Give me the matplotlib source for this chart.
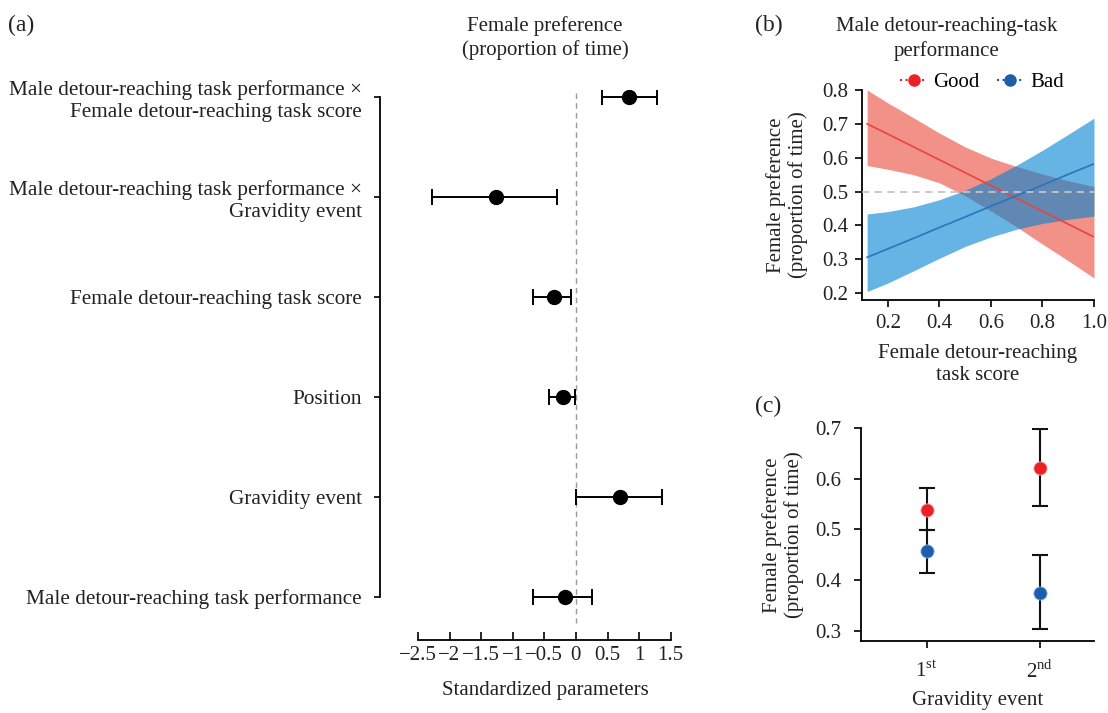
import matplotlib
matplotlib.use("Agg")
import matplotlib.pyplot as plt
from matplotlib.lines import Line2D
import numpy as np

plt.rcParams['font.family'] = ['Liberation Serif', 'DejaVu Serif']
plt.rcParams['mathtext.fontset'] = 'custom'
plt.rcParams['mathtext.rm'] = 'Liberation Serif'
plt.rcParams['axes.unicode_minus'] = True

FS = 15

# ---------------- Panel (a) data ----------------
a_labels = [
    "Male detour-reaching task performance ×\nFemale detour-reaching task score",
    "Male detour-reaching task performance ×\nGravidity event",
    "Female detour-reaching task score",
    "Position",
    "Gravidity event",
    "Male detour-reaching task performance",
]
a_est = [0.84, -1.27, -0.35, -0.20, 0.70, -0.18]
a_low = [0.41, -2.27, -0.68, -0.43, 0.00, -0.68]
a_high = [1.28, -0.30, -0.07, -0.02, 1.36, 0.26]
a_xticks = [-2.5, -2, -1.5, -1, -0.5, 0, 0.5, 1, 1.5]
a_xticklabels = ["−2.5", "−2", "−1.5", "−1", "−0.5", "0", "0.5", "1", "1.5"]

# ---------------- Panel (b) data ----------------
b_x = [0.12, 0.2, 0.3, 0.4, 0.5, 0.6, 0.7, 0.8, 0.9, 1.0]
good_fit = [0.700, 0.670, 0.632, 0.594, 0.556, 0.518, 0.480, 0.442, 0.404, 0.366]
good_up = [0.800, 0.762, 0.718, 0.673, 0.632, 0.599, 0.574, 0.552, 0.532, 0.515]
good_lo = [0.577, 0.566, 0.550, 0.526, 0.488, 0.443, 0.396, 0.345, 0.296, 0.245]
bad_fit = [0.306, 0.331, 0.362, 0.394, 0.425, 0.457, 0.488, 0.519, 0.551, 0.582]
bad_up = [0.434, 0.441, 0.455, 0.476, 0.504, 0.538, 0.578, 0.622, 0.669, 0.717]
bad_lo = [0.205, 0.230, 0.266, 0.303, 0.338, 0.366, 0.389, 0.406, 0.418, 0.428]
b_xticks = [0.2, 0.4, 0.6, 0.8, 1.0]
b_yticks = [0.2, 0.3, 0.4, 0.5, 0.6, 0.7, 0.8]

# ---------------- Panel (c) data ----------------
c_cats = ["1$^{\\mathrm{st}}$", "2$^{\\mathrm{nd}}$"]
c_good = [0.539, 0.621]
c_good_lo = [0.499, 0.547]
c_good_hi = [0.581, 0.698]
c_bad = [0.457, 0.375]
c_bad_lo = [0.414, 0.303]
c_bad_hi = [0.499, 0.449]
c_yticks = [0.3, 0.4, 0.5, 0.6, 0.7]

RED_BAND = (231/255, 55/255, 37/255)
BLUE_BAND = (0/255, 130/255, 210/255)
RED_LINE = '#E8453A'
BLUE_LINE = '#2874BE'
RED_PT = '#EC2127'
BLUE_PT = '#1D5DAB'
TXT = '#222222'

fig = plt.figure(figsize=(11.08, 7.13), dpi=100)

def fx(px):
    return px / 1108.0

def fy(py):
    return 1 - py / 713.0

# ================= (a) =================
axa = fig.add_axes([fx(380), fy(640), fx(696) - fx(380), fy(90) - fy(640)])
ypos = np.arange(len(a_labels))
est = np.array(a_est)
xerr = np.vstack([est - np.array(a_low), np.array(a_high) - est])
axa.vlines(0, -0.04, 5.26, colors='#999999', linestyles=(0, (4, 3)), linewidth=1.0, zorder=1)
axa.errorbar(est, ypos, xerr=xerr, fmt='o', color='black', ecolor='black',
             markersize=10, capsize=6, elinewidth=1.4, capthick=1.4, zorder=3)
axa.set_ylim(5.43, -0.07)
axa.set_xlim(-3.1, 1.9)
axa.set_yticks(ypos)
axa.set_yticklabels(a_labels, fontsize=FS + 0.3, color=TXT)
axa.set_xticks(a_xticks)
axa.set_xticklabels(a_xticklabels, fontsize=FS, color=TXT)
for s in ['top', 'right']:
    axa.spines[s].set_visible(False)
axa.spines['left'].set_bounds(0, 5)
axa.spines['bottom'].set_bounds(-2.5, 1.5)
axa.spines['left'].set_linewidth(1.3)
axa.spines['bottom'].set_linewidth(1.3)
axa.tick_params(axis='y', length=4, width=1.2, pad=9)
axa.tick_params(axis='x', length=6, width=1.2, pad=4, direction='in')
fig.text(fx(545), fy(38), "Female preference\n(proportion of time)", ha='center', va='center',
         fontsize=FS, color=TXT, linespacing=1.25)
fig.text(fx(545), fy(691), "Standardized parameters", ha='center', va='center', fontsize=FS, color=TXT)
fig.text(fx(8), fy(25), "(a)", ha='left', va='center', fontsize=FS + 2, color=TXT)

# ================= (b) =================
axb = fig.add_axes([fx(862), fy(300), fx(1094) - fx(862), fy(90) - fy(300)])
axb.fill_between(b_x, good_lo, good_up, color=RED_BAND, alpha=0.55, linewidth=0, zorder=1)
axb.fill_between(b_x, bad_lo, bad_up, color=BLUE_BAND, alpha=0.6, linewidth=0, zorder=2)
axb.plot(b_x, good_fit, color=RED_LINE, linewidth=1.2, zorder=3)
axb.plot(b_x, bad_fit, color=BLUE_LINE, linewidth=1.2, zorder=3)
axb.axhline(0.5, color='#C4C4C4', linestyle=(0, (4, 3)), linewidth=1.3, zorder=4)
axb.set_xlim(0.1, 1.0)
axb.set_ylim(0.18, 0.8)
axb.set_xticks(b_xticks)
axb.set_xticklabels(["0.2", "0.4", "0.6", "0.8", "1.0"], fontsize=FS, color=TXT)
axb.set_yticks(b_yticks)
axb.set_yticklabels(["0.2", "0.3", "0.4", "0.5", "0.6", "0.7", "0.8"], fontsize=FS, color=TXT)
for s in ['top', 'right']:
    axb.spines[s].set_visible(False)
axb.spines['left'].set_linewidth(1.3)
axb.spines['bottom'].set_linewidth(1.3)
axb.tick_params(length=5, width=1.2, pad=5)
axb.set_xlabel("Female detour-reaching\ntask score", fontsize=FS, color=TXT, labelpad=8, linespacing=1.25)
fig.text(fx(787), fy(195), "Female preference\n(proportion of time)", rotation=90, ha='center',
         va='center', fontsize=FS, color=TXT, linespacing=1.1)
fig.text(fx(947), fy(39), "Male detour-reaching-task\nperformance", ha='center', va='center',
         fontsize=FS, color=TXT, linespacing=1.3)
handles = [Line2D([], [], color=RED_PT, marker='o', linestyle=':', markersize=8, linewidth=1.5),
           Line2D([], [], color=BLUE_PT, marker='o', linestyle=':', markersize=8, linewidth=1.5)]
axb.legend(handles, ["Good", "Bad"], loc='lower center', bbox_to_anchor=(0.517, 0.97), ncol=2,
           frameon=False, fontsize=FS, handlelength=1.3, handletextpad=0.3, columnspacing=0.8,
           borderaxespad=0, borderpad=0.2)
fig.text(fx(755), fy(25), "(b)", ha='left', va='center', fontsize=FS + 2, color=TXT)

# ================= (c) =================
axc = fig.add_axes([fx(861), fy(641), fx(1094) - fx(861), fy(428) - fy(641)])
cx = np.arange(len(c_cats))
g = np.array(c_good)
b = np.array(c_bad)
axc.errorbar(cx, g, yerr=[g - np.array(c_good_lo), np.array(c_good_hi) - g], fmt='none',
             ecolor='#111111', elinewidth=1.5, capsize=6, capthick=1.5, zorder=2)
axc.errorbar(cx, b, yerr=[b - np.array(c_bad_lo), np.array(c_bad_hi) - b], fmt='none',
             ecolor='#111111', elinewidth=1.5, capsize=6, capthick=1.5, zorder=2)
axc.plot(cx, g, 'o', color=RED_PT, markersize=9.5, markeredgecolor='#F8A0A0', markeredgewidth=0.6, zorder=3)
axc.plot(cx, b, 'o', color=BLUE_PT, markersize=9.5, markeredgecolor='#7FB0E0', markeredgewidth=0.6, zorder=3)
axc.set_xlim(-0.58, 1.48)
axc.set_ylim(0.28, 0.70)
axc.set_xticks(cx)
axc.set_xticklabels(c_cats, fontsize=FS, color=TXT)
axc.set_yticks(c_yticks)
axc.set_yticklabels(["0.3", "0.4", "0.5", "0.6", "0.7"], fontsize=FS, color=TXT)
for s in ['top', 'right']:
    axc.spines[s].set_visible(False)
axc.spines['left'].set_linewidth(1.3)
axc.spines['bottom'].set_linewidth(1.3)
axc.tick_params(length=5, width=1.2, pad=9)
fig.text(fx(978), fy(701), "Gravidity event", ha='center', va='center', fontsize=FS, color=TXT)
fig.text(fx(783), fy(535), "Female preference\n(proportion of time)", rotation=90, ha='center',
         va='center', fontsize=FS, color=TXT, linespacing=1.1)
fig.text(fx(755), fy(406), "(c)", ha='left', va='center', fontsize=FS + 2, color=TXT)

fig.savefig("out.png", dpi=100)
